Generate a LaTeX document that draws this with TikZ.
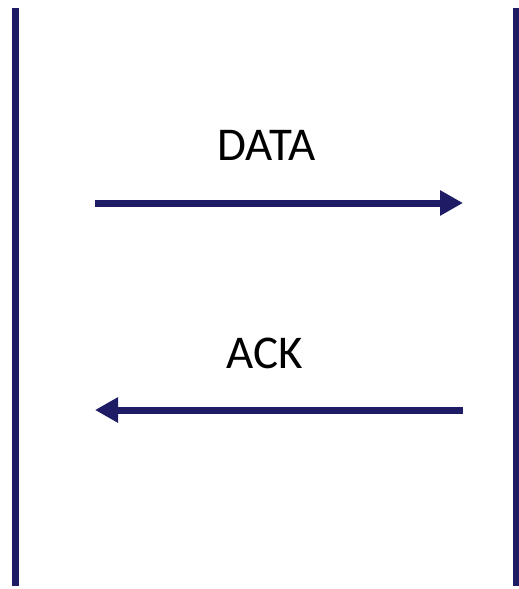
\documentclass[tikz,border=0pt]{standalone}
\usepackage{fontspec}
\setsansfont{Carlito}
\usepackage{tikz}
\usetikzlibrary{arrows.meta,positioning}

\definecolor{navy}{RGB}{30,28,100}

\begin{document}
\begin{tikzpicture}[x=1pt,y=-1pt,>={Triangle[length=23pt,width=24pt]},font=\sffamily\fontsize{47}{56}\selectfont,
	lifeline/.style={draw=navy, line width=7pt},
	msg/.style={draw=navy, fill=navy, line width=7pt, ->},
	label/.style={inner sep=0pt, anchor=base}]
	\useasboundingbox [fill=white] (0,0) rectangle (519,589);

	% lifelines
	\coordinate (senderTop) at (15.5,8);
	\coordinate (senderBot) at (15.5,586);
	\coordinate (receiverTop) at (516.5,8);
	\coordinate (receiverBot) at (516.5,586);
	\draw [lifeline] (senderTop) -- (senderBot);
	\draw [lifeline] (receiverTop) -- (receiverBot);

	% messages
	\coordinate (dataFrom) at (95,203);
	\coordinate (dataTo) at (463,203);
	\coordinate (ackFrom) at (463,410);
	\coordinate (ackTo) at (95,410);

	\draw [msg] (dataFrom) -- (dataTo);
	\node [label] (dataLabel) at (266.5,160) {DATA};

	\draw [msg] (ackFrom) -- (ackTo);
	\node [label] (ackLabel) at (265,368) {ACK};
\end{tikzpicture}
\end{document}
